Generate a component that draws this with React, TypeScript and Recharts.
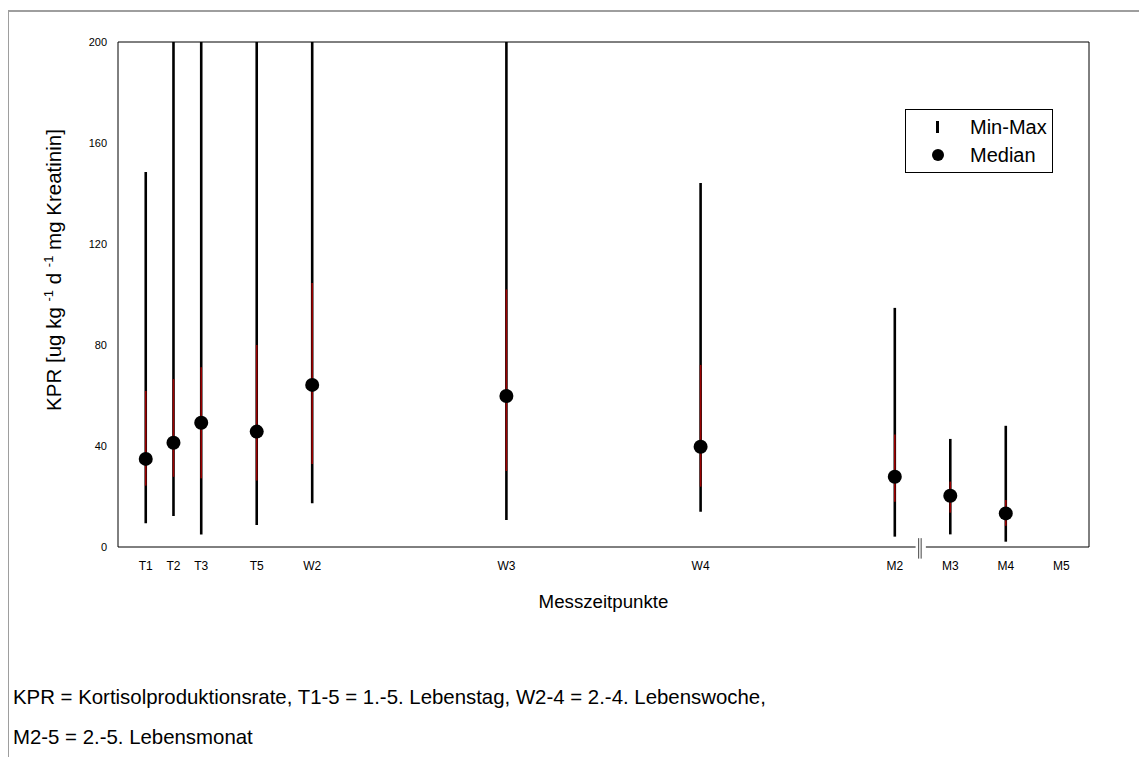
import React from "react";
import {
  ComposedChart, Scatter, ErrorBar, XAxis, YAxis, ReferenceLine, Legend,
} from "recharts";

// Messzeitpunkte (x-Position auf der Zeitachse) und Beschriftung
const tickLabels = ["T1", "T2", "T3", "T5", "W2", "W3", "W4", "M2", "M3", "M4", "M5"];
const tickPos = [1, 2, 3, 5, 7, 14, 21, 28, 30, 32, 34];
const yTicks = [0, 40, 80, 120, 160, 200];

// Werte je Messzeitpunkt (M5 ohne Daten)
const pointPos = [1, 2, 3, 5, 7, 14, 21, 28, 30, 32];
const minVals = [9.4, 12.3, 5.0, 8.7, 17.3, 10.7, 14.0, 4.1, 5.0, 2.1];
const q1Vals = [24.3, 27.8, 27.2, 26.3, 32.9, 30.1, 23.9, 17.9, 13.6, 8.4];
const medianVals = [34.9, 41.3, 49.2, 45.7, 64.2, 59.8, 39.7, 27.8, 20.3, 13.3];
const q3Vals = [61.8, 66.5, 71.2, 80.0, 104.6, 102.0, 72.1, 44.6, 25.9, 18.6];
const maxVals = [148.5, 200, 200, 200, 200, 200, 144.2, 94.7, 42.8, 48.0];

const data = pointPos.map((x, i) => ({
  x,
  y: medianVals[i],
  range: [medianVals[i] - minVals[i], maxVals[i] - medianVals[i]],
  iqr: [medianVals[i] - q1Vals[i], q3Vals[i] - medianVals[i]],
}));

const FONT = "Arial, 'Liberation Sans', sans-serif";

function YLabel() {
  const sup = { fontSize: 13 };
  return (
    <text
      x={61} y={270} transform="rotate(-90, 61, 270)" textAnchor="middle"
      fontSize={20.5} fontFamily={FONT} fill="#000"
    >
      <tspan>KPR [ug kg </tspan>
      <tspan dy={-8} style={sup}>-1</tspan>
      <tspan dy={8}> d </tspan>
      <tspan dy={-8} style={sup}>-1</tspan>
      <tspan dy={8}> mg Kreatinin]</tspan>
    </text>
  );
}

function LegendBox() {
  return (
    <div style={{
      width: 148, height: 64, border: "1px solid #000", boxSizing: "border-box",
      background: "#fff", fontFamily: FONT, fontSize: 20, color: "#000", position: "relative",
    }}>
      <div style={{ position: "absolute", left: 30, top: 11, width: 3, height: 12, background: "#000" }} />
      <div style={{ position: "absolute", left: 64, top: 5, lineHeight: "24px" }}>Min-Max</div>
      <div style={{ position: "absolute", left: 25.5, top: 38.5, width: 12, height: 12, borderRadius: 6, background: "#000" }} />
      <div style={{ position: "absolute", left: 64, top: 33, lineHeight: "24px" }}>Median</div>
    </div>
  );
}

export default function App() {
  return (
    <div style={{ position: "relative", width: 1147, height: 765, margin: -8, overflow: "hidden", background: "#fff" }}>
      <div style={{
        position: "absolute", left: 7, top: 10, width: 1137, height: 800,
        border: "2px solid #9e9e9e", boxSizing: "border-box",
      }} />
      <div style={{ position: "absolute", left: 0, top: 0 }}>
        <ComposedChart width={1147} height={640} data={data}
          margin={{ top: 42, right: 58, bottom: 63, left: 0 }}>
          <XAxis
            dataKey="x" type="number" domain={[0, 35]} ticks={tickPos}
            tickFormatter={(v) => tickLabels[tickPos.indexOf(v)] ?? ""}
            axisLine={false} tickLine={false} tickSize={0} tickMargin={14}
            tick={{ fontSize: 12, fill: "#000", fontFamily: FONT }} height={30}
            label={{
              content: () => (
                <text x={603.5} y={608} textAnchor="middle" fontSize={18.7} fontFamily={FONT} fill="#000">
                  Messzeitpunkte
                </text>
              ),
            }}
          />
          <YAxis
            type="number" domain={[0, 200]} ticks={yTicks} allowDataOverflow
            width={118} tickLine={false} tickSize={0} tickMargin={11}
            axisLine={{ stroke: "#000", strokeWidth: 1 }}
            tick={{ fontSize: 11, fill: "#000", fontFamily: FONT }}
            label={{ content: () => <YLabel /> }}
          />
          <ReferenceLine y={200} stroke="#000" strokeWidth={1} />
          <ReferenceLine x={35} stroke="#000" strokeWidth={1} />
          <ReferenceLine segment={[{ x: 0, y: 0 }, { x: 28.75, y: 0 }]} stroke="#000" strokeWidth={1} />
          <ReferenceLine segment={[{ x: 29.12, y: 0 }, { x: 35, y: 0 }]} stroke="#000" strokeWidth={1} />
          <ReferenceLine segment={[{ x: 28.86, y: -4.6 }, { x: 28.86, y: 3.5 }]} stroke="#444" strokeWidth={1} ifOverflow="visible" />
          <ReferenceLine segment={[{ x: 28.95, y: -4.6 }, { x: 28.95, y: 3.5 }]} stroke="#444" strokeWidth={1} ifOverflow="visible" />
          <Scatter data={data} dataKey="y" isAnimationActive={false} shape={() => <g />} legendType="none">
            <ErrorBar dataKey="range" direction="y" width={0} stroke="#000" strokeWidth={2.6} isAnimationActive={false} />
            <ErrorBar dataKey="iqr" direction="y" width={0} stroke="#9a0000" strokeWidth={1.6} isAnimationActive={false} />
          </Scatter>
          <Scatter
            data={data} dataKey="y" isAnimationActive={false} name="Median"
            shape={(p: any) => <circle cx={p.cx} cy={p.cy} r={7} fill="#000" />}
          />
          <Legend
            layout="vertical" align="center" verticalAlign="middle"
            wrapperStyle={{ left: 905, top: 109, width: 148, height: 64 }}
            content={() => <LegendBox />}
          />
        </ComposedChart>
      </div>
      <div style={{ position: "absolute", left: 13, top: 684, fontFamily: FONT, fontSize: 20.4, lineHeight: "26px", color: "#000" }}>
        KPR = Kortisolproduktionsrate, T1-5 = 1.-5. Lebenstag, W2-4 = 2.-4. Lebenswoche,
      </div>
      <div style={{ position: "absolute", left: 13, top: 724, fontFamily: FONT, fontSize: 20.4, lineHeight: "26px", color: "#000" }}>
        M2-5 = 2.-5. Lebensmonat
      </div>
    </div>
  );
}
